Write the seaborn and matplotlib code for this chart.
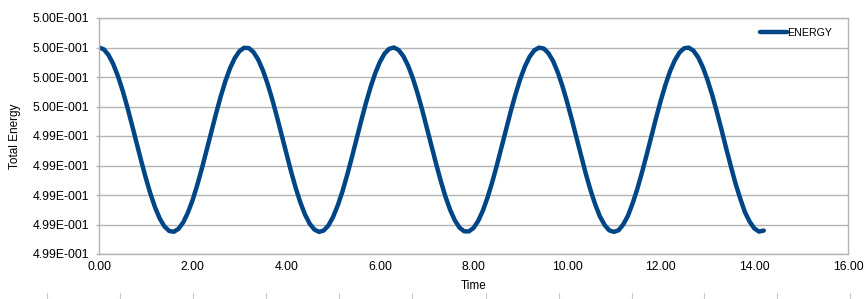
import matplotlib
matplotlib.use("Agg")
import matplotlib.pyplot as plt
import seaborn as sns
import pandas as pd
from matplotlib.lines import Line2D
from matplotlib.ticker import FuncFormatter

# Time samples (step 0.1)
time = [0.0, 0.1, 0.2, 0.3, 0.4, 0.5, 0.6, 0.7, 0.8, 0.9,
        1.0, 1.1, 1.2, 1.3, 1.4, 1.5, 1.6, 1.7, 1.8, 1.9,
        2.0, 2.1, 2.2, 2.3, 2.4, 2.5, 2.6, 2.7, 2.8, 2.9,
        3.0, 3.1, 3.2, 3.3, 3.4, 3.5, 3.6, 3.7, 3.8, 3.9,
        4.0, 4.1, 4.2, 4.3, 4.4, 4.5, 4.6, 4.7, 4.8, 4.9,
        5.0, 5.1, 5.2, 5.3, 5.4, 5.5, 5.6, 5.7, 5.8, 5.9,
        6.0, 6.1, 6.2, 6.3, 6.4, 6.5, 6.6, 6.7, 6.8, 6.9,
        7.0, 7.1, 7.2, 7.3, 7.4, 7.5, 7.6, 7.7, 7.8, 7.9,
        8.0, 8.1, 8.2, 8.3, 8.4, 8.5, 8.6, 8.7, 8.8, 8.9,
        9.0, 9.1, 9.2, 9.3, 9.4, 9.5, 9.6, 9.7, 9.8, 9.9,
        10.0, 10.1, 10.2, 10.3, 10.4, 10.5, 10.6, 10.7, 10.8, 10.9,
        11.0, 11.1, 11.2, 11.3, 11.4, 11.5, 11.6, 11.7, 11.8, 11.9,
        12.0, 12.1, 12.2, 12.3, 12.4, 12.5, 12.6, 12.7, 12.8, 12.9,
        13.0, 13.1, 13.2, 13.3, 13.4, 13.5, 13.6, 13.7, 13.8, 13.9,
        14.0, 14.1, 14.2]
# Energy drop below 0.5, in units of 1e-5
energy_drop = [0.0, 1.2, 4.9, 10.9, 19.0, 28.7, 39.8, 51.9, 64.3, 76.7,
               88.5, 99.3, 108.6, 116.1, 121.4, 124.4, 124.9, 122.9, 118.5, 111.9,
               103.4, 93.1, 81.7, 69.5, 57.0, 44.8, 33.2, 22.8, 14.0, 7.2,
               2.5, 0.2, 0.4, 3.1, 8.2, 15.4, 24.5, 35.1, 46.8, 59.1,
               71.6, 83.7, 95.0, 104.9, 113.2, 119.4, 123.4, 125.0, 124.1, 120.7,
               114.9, 107.1, 97.6, 86.6, 74.7, 62.2, 49.8, 37.9, 27.0, 17.5,
               9.8, 4.1, 0.9, 0.0, 1.7, 5.8, 12.1, 20.5, 30.5, 41.8,
               54.0, 66.4, 78.7, 90.4, 101.0, 110.0, 117.1, 122.1, 124.6, 124.7,
               122.4, 117.6, 110.6, 101.7, 91.3, 79.7, 67.4, 54.9, 42.8, 31.4,
               21.2, 12.7, 6.2, 1.9, 0.1, 0.7, 3.8, 9.2, 16.8, 26.2,
               37.0, 48.8, 61.2, 73.7, 85.7, 96.7, 106.4, 114.5, 120.3, 124.0,
               125.0, 123.9, 119.9, 114.0, 105.6, 95.8, 84.6, 72.6, 60.1, 47.8,
               36.0, 25.3, 16.0, 8.7, 3.4, 0.5, 0.1, 2.2, 6.7, 13.4,
               22.1, 32.3, 43.8, 56.0, 68.6, 80.8, 92.5, 102.6, 111.8, 118.1,
               122.7, 124.8, 124.1]
energy = [0.5 - d * 1e-5 for d in energy_drop]

y_ticks = [0.4986, 0.4988, 0.4990, 0.4992, 0.4994, 0.4996, 0.4998, 0.5000, 0.5002]
x_ticks = [0, 2, 4, 6, 8, 10, 12, 14, 16]

df = pd.DataFrame({"Time": time, "ENERGY": energy})

sns.set_theme(style="white")
plt.rcParams["font.family"] = ["Liberation Sans", "DejaVu Sans"]

fig = plt.figure(figsize=(8.68, 2.99), dpi=100)
ax = fig.add_axes([99 / 868, 1 - 254 / 299, (848 - 99) / 868, (254 - 18) / 299])

sns.lineplot(data=df, x="Time", y="ENERGY", ax=ax, color="#004586", linewidth=3.2,
             label="ENERGY", solid_capstyle="round", solid_joinstyle="round")

ax.set_xlim(0, 16)
ax.set_ylim(y_ticks[0], y_ticks[-1])
ax.set_xticks(x_ticks)
ax.set_yticks(y_ticks)


def efmt(v, pos):
    m, e = f"{v:.2E}".split("E")
    ei = int(e)
    return f"{m}E{'-' if ei < 0 else ''}{abs(ei):03d}"


ax.yaxis.set_major_formatter(FuncFormatter(efmt))
ax.xaxis.set_major_formatter(FuncFormatter(lambda v, p: f"{v:.2f}"))

ax.grid(axis="y", color="#b3b3b3", linewidth=1)
ax.grid(axis="x", visible=False)
for s in ax.spines.values():
    s.set_color("#b3b3b3")
    s.set_linewidth(1)

ax.tick_params(axis="y", which="major", length=2.2, width=1, color="#b3b3b3",
               labelsize=8.8, pad=5, left=True, labelcolor="#000000")
ax.tick_params(axis="x", which="major", length=0, labelsize=8.8, pad=5,
               labelcolor="#000000")
ax.set_xlabel("Time", fontsize=8.5, color="#000000", labelpad=5)
ax.set_ylabel("Total Energy", fontsize=8.5, color="#000000")
ax.yaxis.set_label_coords((21 - 99) / 749, 0.5)

leg = ax.legend(loc="center left", frameon=False, fontsize=7.7, handlelength=2.5,
                handletextpad=0.0, borderaxespad=0.0, borderpad=0.0,
                bbox_to_anchor=((760 - 99) / 749, (254 - 33) / 236))
for t in leg.get_texts():
    t.set_color("#000000")

# faint marks at the bottom edge of the image
for xp in [47, 120, 193, 266, 339, 412, 486, 559, 632, 704, 777, 850]:
    fig.add_artist(Line2D([xp / 868, xp / 868], [0, 6 / 299], color="#c8c8c8",
                          linewidth=0.8, transform=fig.transFigure))

fig.savefig("out.png", dpi=100)
